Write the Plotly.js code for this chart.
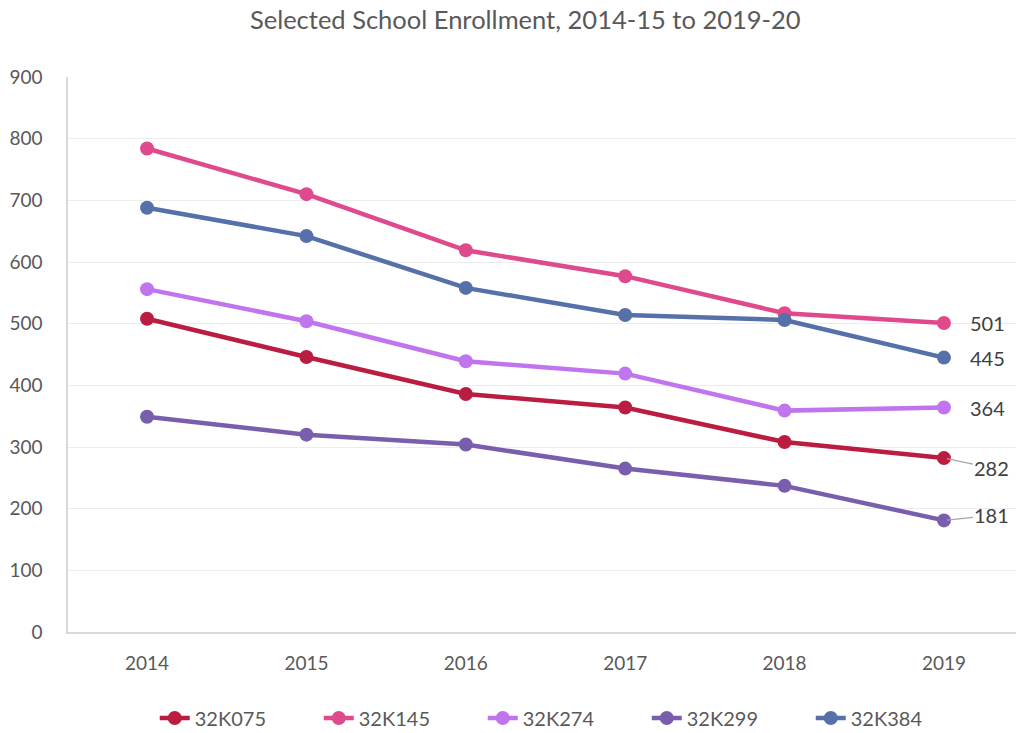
<!DOCTYPE html>
<html>
<head>
<meta charset="utf-8">
<script src="https://cdn.plot.ly/plotly-3.0.1.min.js"></script>
<style>html,body{margin:0;padding:0;background:#fff;}#chart{width:1016px;height:733px;}</style>
</head>
<body>
<div id="chart"></div>
<script>
const years = ["2014", "2015", "2016", "2017", "2018", "2019"];
const s32K075 = [508, 446, 386, 364, 308, 282];
const s32K145 = [784, 710, 619, 577, 517, 501];
const s32K274 = [556, 504, 439, 419, 359, 364];
const s32K299 = [349, 320, 304, 265, 237, 181];
const s32K384 = [688, 642, 558, 514, 506, 445];
const seriesNames = ["32K075", "32K145", "32K274", "32K299", "32K384"];
const seriesValues = [s32K075, s32K145, s32K274, s32K299, s32K384];
const colors = ["#BA1D41", "#DF4A8D", "#C074EE", "#7A5EAE", "#5670A9"];
const yTicks = [0, 100, 200, 300, 400, 500, 600, 700, 800, 900];

const FONT = "Lato, 'Open Sans', sans-serif";

const traces = seriesNames.map((n, i) => ({
  type: "scatter",
  mode: "lines+markers",
  name: n,
  x: years,
  y: seriesValues[i],
  line: {color: colors[i], width: 4.5},
  marker: {color: colors[i], size: 14},
  hoverinfo: "x+y+name"
}));

// end labels: [series index, ax offset, ay offset, leader line]
const labelCfg = [
  [1, 44, 0, false],
  [4, 44, 0, false],
  [2, 44, 0, false],
  [0, 48, 10, true],
  [3, 48, -5, true]
];
const last = years.length - 1;
const annotations = labelCfg.map(([i, ax, ay, arrow]) => ({
  x: last,
  y: seriesValues[i][last],
  xref: "x", yref: "y",
  text: String(seriesValues[i][last]),
  showarrow: true,
  arrowhead: 0,
  arrowwidth: 1.2,
  arrowcolor: arrow ? "#a6a6a6" : "rgba(255,255,255,0)",
  standoff: 3,
  ax: ax, ay: ay,
  xanchor: "center",
  font: {family: FONT, size: 20, color: "#404040"}
}));

const layout = {
  width: 1016,
  height: 733,
  margin: {l: 68, r: 0, t: 77, b: 101},
  paper_bgcolor: "#fff",
  plot_bgcolor: "#fff",
  font: {family: FONT, color: "#595959"},
  title: {
    text: "Selected School Enrollment, 2014-15 to 2019-20",
    font: {family: FONT, size: 25.5, color: "#595959"},
    x: 0.517, xanchor: "center",
    y: 0.972, yanchor: "middle", yref: "container"
  },
  showlegend: true,
  legend: {
    orientation: "h",
    xref: "paper",
    x: 0.524, xanchor: "center",
    yref: "container",
    y: 0.0205, yanchor: "middle",
    font: {family: FONT, size: 20, color: "#595959"},
    entrywidth: 119,
    entrywidthmode: "pixels",
    tracegroupgap: 0
  },
  xaxis: {
    type: "category",
    range: [-0.496, 5.452],
    showgrid: false,
    showline: true,
    linecolor: "#d9d9d9",
    linewidth: 1.5,
    ticks: "",
    ticklabelstandoff: 13,
    tickfont: {family: FONT, size: 19, color: "#595959"},
    zeroline: false,
    fixedrange: true
  },
  yaxis: {
    range: [0, 900],
    tickvals: yTicks,
    ticktext: yTicks.map(String),
    showgrid: true,
    gridcolor: "#ececec",
    gridwidth: 1.3,
    showline: true,
    linecolor: "#d9d9d9",
    linewidth: 1.5,
    zeroline: false,
    ticks: "",
    ticklabelstandoff: 20,
    tickfont: {family: FONT, size: 19, color: "#595959"},
    fixedrange: true
  },
  annotations: annotations
};

Plotly.newPlot("chart", traces, layout, {displayModeBar: false, responsive: false});
</script>
</body>
</html>
